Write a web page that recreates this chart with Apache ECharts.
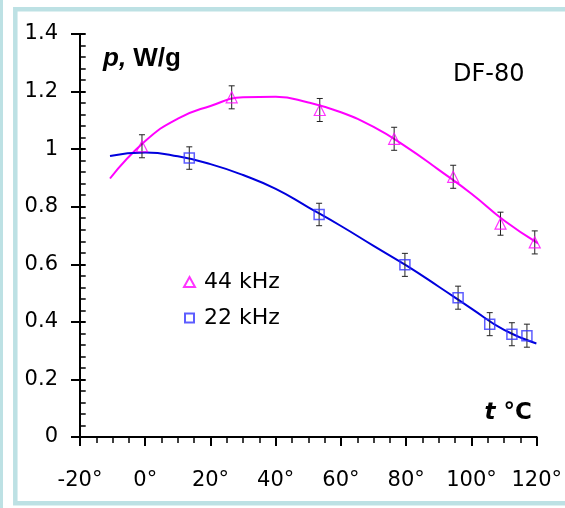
<!DOCTYPE html>
<html>
<head>
<meta charset="utf-8">
<script src="https://cdn.jsdelivr.net/npm/echarts@6/dist/echarts.min.js"></script>
<style>
  html, body { margin: 0; padding: 0; background: #fff; }
  #chart { width: 565px; height: 508px; }
</style>
</head>
<body>
<div id="chart"></div>
<script>
// measured points, 44 kHz
var t44 = [-1, 26.5, 53.5, 76.3, 94.4, 108.9, 119.4];
var p44 = [1.01, 1.18, 1.136, 1.036, 0.904, 0.741, 0.676];
var err44 = [0.04, 0.04, 0.04, 0.04, 0.04, 0.04, 0.04];

// measured points, 22 kHz
var t22 = [13.5, 53.3, 79.6, 95.9, 105.6, 112.4, 117.0];
var p22 = [0.969, 0.773, 0.598, 0.484, 0.392, 0.357, 0.352];
var err22 = [0.039, 0.039, 0.04, 0.04, 0.04, 0.04, 0.04];

// fitted curves
var fit44T = [-10.8, 0, 10, 20, 30, 40, 50, 60, 70, 80, 90, 100, 110, 120.4];
var fit44P = [0.898, 1.028, 1.106, 1.150, 1.180, 1.182, 1.162, 1.128, 1.077, 1.008, 0.928, 0.845, 0.752, 0.673];
var fit22T = [-10.8, 0, 10, 20, 30, 40, 50, 60, 70, 80, 90, 100, 110, 119.9];
var fit22P = [0.976, 0.988, 0.975, 0.948, 0.910, 0.862, 0.798, 0.733, 0.664, 0.596, 0.522, 0.446, 0.372, 0.325];

var MAGENTA = '#ff00ff';
var BLUE = '#0000dd';
var SQUARE = '#3535ff';
var FRAME = '#bde1e4';

function pairs(xs, ys) {
  return xs.map(function (x, i) { return [x, ys[i]]; });
}
function bars(xs, ys, es) {
  return xs.map(function (x, i) { return [x, ys[i] - es[i], ys[i] + es[i]]; });
}

// error bar with small caps
function errorBar(params, api) {
  var lo = api.coord([api.value(0), api.value(1)]);
  var hi = api.coord([api.value(0), api.value(2)]);
  var st = { stroke: '#222', lineWidth: 1 };
  return {
    type: 'group',
    children: [
      { type: 'line', shape: { x1: lo[0], y1: lo[1], x2: hi[0], y2: hi[1] }, style: st },
      { type: 'line', shape: { x1: lo[0] - 3, y1: lo[1], x2: lo[0] + 3, y2: lo[1] }, style: st },
      { type: 'line', shape: { x1: hi[0] - 3, y1: hi[1], x2: hi[0] + 3, y2: hi[1] }, style: st }
    ]
  };
}

var axisFont = { fontFamily: 'DejaVu Sans', fontSize: 21, color: '#000' };
var blackLine = { color: '#000', width: 2 };

var chart = echarts.init(document.getElementById('chart'));
chart.setOption({
  backgroundColor: '#fff',
  animation: false,
  grid: { left: 80, right: 28, top: 34, bottom: 71 },
  xAxis: {
    type: 'value',
    min: -20, max: 120, interval: 20,
    axisLine: { onZero: false, lineStyle: blackLine },
    axisTick: { length: 9, lineStyle: { color: '#000', width: 2 } },
    minorTick: { show: true, splitNumber: 4, length: 6, lineStyle: { color: '#000', width: 1.5 } },
    splitLine: { show: false },
    axisLabel: Object.assign({ margin: 33, formatter: '{value}°' }, axisFont)
  },
  yAxis: [
    {
      type: 'value',
      min: 0, max: 1.4, interval: 0.2,
      offset: 0,
      axisLine: { show: true, onZero: false, lineStyle: blackLine },
      axisTick: { length: 9, lineStyle: { color: '#000', width: 2 } },
      splitLine: { show: false },
      axisLabel: Object.assign({ margin: 22 }, axisFont)
    },
    {
      // second copy of the axis, moved onto the left edge, for the inner ticks
      type: 'value',
      position: 'right',
      offset: -457,
      min: 0, max: 1.4, interval: 0.2,
      axisLine: { show: false, onZero: false },
      axisTick: { length: 6, lineStyle: { color: '#000', width: 2 } },
      minorTick: { show: true, splitNumber: 5, length: 6, lineStyle: { color: '#000', width: 1.5 } },
      splitLine: { show: false },
      axisLabel: { show: false }
    }
  ],
  legend: [
    {
      data: ['44 kHz'], left: 178, top: 266, orient: 'vertical',
      itemWidth: 11, itemHeight: 10,
      textStyle: { fontFamily: 'DejaVu Sans', fontSize: 22, color: '#000', padding: [0, 0, 0, 4] }
    },
    {
      data: ['22 kHz'], left: 179, top: 302, orient: 'vertical',
      itemWidth: 9, itemHeight: 9,
      textStyle: { fontFamily: 'DejaVu Sans', fontSize: 22, color: '#000', padding: [0, 0, 0, 5] }
    }
  ],
  graphic: [
    { type: 'rect', shape: { x: 0, y: 0, width: 3, height: 508 }, style: { fill: FRAME }, silent: true },
    { type: 'rect', shape: { x: 15.3, y: 9.3, width: 600, height: 494 }, style: { fill: 'none', stroke: FRAME, lineWidth: 4.5 }, silent: true },
    {
      type: 'text', left: 103, top: 46,
      style: {
        text: '{p|p,} {w|W/g}',
        rich: {
          p: { fontFamily: 'Liberation Sans', fontSize: 26, fontWeight: 'bold', fontStyle: 'italic', fill: '#000' },
          w: { fontFamily: 'Liberation Sans', fontSize: 26, fontWeight: 'bold', fill: '#000' }
        },
        font: 'bold 26px "Liberation Sans"'
      }
    },
    {
      type: 'text', left: 453, top: 63,
      style: { text: 'DF-80', font: '24px "DejaVu Sans"', fill: '#000' }
    },
    {
      type: 'text', right: 33, top: 402,
      style: {
        text: '{t|t} {c|°C}',
        rich: {
          t: { fontFamily: 'DejaVu Sans', fontSize: 23, fontWeight: 'bold', fontStyle: 'italic', fill: '#000' },
          c: { fontFamily: 'DejaVu Sans', fontSize: 23, fontWeight: 'bold', fill: '#000' }
        },
        font: 'bold 23px "DejaVu Sans"'
      }
    }
  ],
  series: [
    {
      name: 'fit44', type: 'line', smooth: 0.5, showSymbol: false, symbol: 'none',
      data: pairs(fit44T, fit44P), lineStyle: { color: MAGENTA, width: 2 }, z: 2
    },
    {
      name: 'fit22', type: 'line', smooth: 0.5, showSymbol: false, symbol: 'none',
      data: pairs(fit22T, fit22P), lineStyle: { color: BLUE, width: 2 }, z: 2
    },
    { name: 'err44', type: 'custom', renderItem: errorBar, data: bars(t44, p44, err44), z: 3 },
    { name: 'err22', type: 'custom', renderItem: errorBar, data: bars(t22, p22, err22), z: 3 },
    {
      name: '44 kHz', type: 'scatter', symbol: 'triangle', symbolSize: 11,
      data: pairs(t44, p44),
      itemStyle: { color: 'rgba(255,255,255,0)', borderColor: MAGENTA, borderWidth: 1.2 }, z: 4
    },
    {
      name: '22 kHz', type: 'scatter', symbol: 'rect', symbolSize: 10,
      data: pairs(t22, p22),
      itemStyle: { color: 'rgba(255,255,255,0)', borderColor: SQUARE, borderWidth: 1.5 }, z: 4
    }
  ]
});
</script>
</body>
</html>
